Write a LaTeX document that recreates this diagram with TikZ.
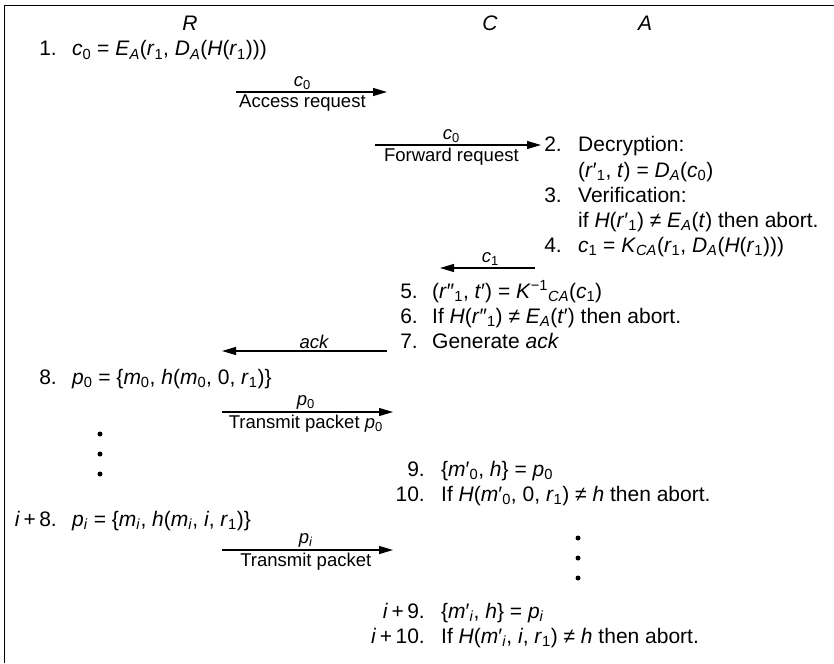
\documentclass[tikz,border=0pt]{standalone}
\usepackage{fontspec}
\setmainfont{Liberation Sans}
\usetikzlibrary{arrows.meta}

\newcommand\vr[1]{\textit{#1}}
\newcommand\lo[1]{\textsubscript{#1}}
\newcommand\hi[1]{\textsuperscript{#1}}

\tikzset{
  num/.style={anchor=base east, inner sep=0pt},
  txt/.style={anchor=base west, inner sep=0pt},
  lbl/.style={inner sep=2pt, font=\fontsize{18.5}{22}\selectfont},
  msg/.style={-{Triangle[length=14pt,width=8pt]}, line width=1.2pt},
  every node/.style={font=\fontsize{21}{25}\selectfont}
}

\begin{document}
\begin{tikzpicture}[x=1pt,y=-1pt]
\useasboundingbox (0,0) rectangle (834,663);
\draw[line width=1.5pt] (4.5,663) -- (4.5,5.5) -- (834,5.5);

% parties
\node[anchor=base] (hR) at (190,31) {\vr{R}};
\node[anchor=base] (hC) at (490,31) {\vr{C}};
\node[anchor=base] (hA) at (645,31) {\vr{A}};

% R: access request
\node[num] (n1) at (57,56) {1.};
\node[txt] (t1) at (72,56) {\vr{c}\lo{0} = \vr{E}\lo{\vr{A}}(\vr{r}\lo{1}, \vr{D}\lo{\vr{A}}(\vr{H}(\vr{r}\lo{1})))};

\coordinate (m1s) at (236,92);
\coordinate (m1e) at (387,92);
\draw[msg] (m1s) -- node[lbl,above,pos=.44] (m1a) {\vr{c}\lo{0}}
  node[lbl,below,pos=.44] (m1b) {Access request} (m1e);

\coordinate (m2s) at (375,145);
\coordinate (m2e) at (541,145);
\draw[msg] (m2s) -- node[lbl,above,pos=.46] (m2a) {\vr{c}\lo{0}}
  node[lbl,below,pos=.46] (m2b) {Forward request} (m2e);

% A: decryption and verification
\node[num] (n2) at (562,152) {2.};
\node[txt] (t2) at (578,152) {Decryption:};
\node[txt] (t2b) at (578,177) {(\vr{r}′\lo{1}, \vr{t}) = \vr{D}\lo{\vr{A}}(\vr{c}\lo{0})};
\node[num] (n3) at (562,202) {3.};
\node[txt] (t3) at (578,202) {Verification:};
\node[txt] (t3b) at (578,227) {if \vr{H}(\vr{r}′\lo{1}) ≠ \vr{E}\lo{\vr{A}}(\vr{t}) then abort.};
\node[num] (n4) at (562,252) {4.};
\node[txt] (t4) at (578,252) {\vr{c}\lo{1} = \vr{K}\lo{\vr{CA}}(\vr{r}\lo{1}, \vr{D}\lo{\vr{A}}(\vr{H}(\vr{r}\lo{1})))};

\coordinate (m3s) at (535,268);
\coordinate (m3e) at (440,268);
\draw[msg] (m3s) -- node[lbl,above,pos=.47] (m3a) {\vr{c}\lo{1}} (m3e);

% C: check the reply
\node[num] (n5) at (418,298) {5.};
\node[txt] (t5) at (432,298) {(\vr{r}″\lo{1}, \vr{t}′) = \vr{K}\hi{−1}\lo{\vr{CA}}(\vr{c}\lo{1})};
\node[num] (n6) at (418,323) {6.};
\node[txt] (t6) at (432,323) {If \vr{H}(\vr{r}″\lo{1}) ≠ \vr{E}\lo{\vr{A}}(\vr{t}′) then abort.};
\node[num] (n7) at (418,348) {7.};
\node[txt] (t7) at (432,348) {Generate \vr{ack}};

\coordinate (m4s) at (387,351);
\coordinate (m4e) at (222,351);
\draw[msg] (m4s) -- node[lbl,above,pos=.44] (m4a) {\vr{ack}} (m4e);

% R: packets
\node[num] (n8) at (57,384) {8.};
\node[txt] (t8) at (72,384) {\vr{p}\lo{0} = \{\vr{m}\lo{0}, \vr{h}(\vr{m}\lo{0}, 0, \vr{r}\lo{1})\}};

\coordinate (m5s) at (222,412);
\coordinate (m5e) at (393,412);
\draw[msg] (m5s) -- node[lbl,above,pos=.49] (m5a) {\vr{p}\lo{0}}
  node[lbl,below,pos=.49] (m5b) {Transmit packet \vr{p}\lo{0}} (m5e);

\foreach \y in {434,454,474} \fill (100,\y) circle (2.5);

\node[num] (n9) at (425,476) {9.};
\node[txt] (t9) at (441,476) {\{\vr{m}′\lo{0}, \vr{h}\} = \vr{p}\lo{0}};
\node[num] (n10) at (425,501) {10.};
\node[txt] (t10) at (441,501) {If \vr{H}(\vr{m}′\lo{0}, 0, \vr{r}\lo{1}) ≠ \vr{h}\ then abort.};

\node[num] (ni8) at (57,526) {\vr{i}\,+\,8.};
\node[txt] (ti8) at (72,526) {\vr{p}\lo{\vr{i}} = \{\vr{m}\lo{\vr{i}}, \vr{h}(\vr{m}\lo{\vr{i}}, \vr{i}, \vr{r}\lo{1})\}};

\coordinate (m6s) at (222,550);
\coordinate (m6e) at (393,550);
\draw[msg] (m6s) -- node[lbl,above,pos=.49] (m6a) {\vr{p}\lo{\vr{i}}}
  node[lbl,below,pos=.49] (m6b) {Transmit packet} (m6e);

\foreach \y in {538,558,578} \fill (578,\y) circle (2.5);

\node[num] (ni9) at (425,618) {\vr{i}\,+\,9.};
\node[txt] (ti9) at (441,618) {\{\vr{m}′\lo{\vr{i}}, \vr{h}\} = \vr{p}\lo{\vr{i}}};
\node[num] (ni10) at (425,643) {\vr{i}\,+\,10.};
\node[txt] (ti10) at (441,643) {If \vr{H}(\vr{m}′\lo{\vr{i}}, \vr{i}, \vr{r}\lo{1}) ≠ \vr{h}\ then abort.};
\end{tikzpicture}
\end{document}
